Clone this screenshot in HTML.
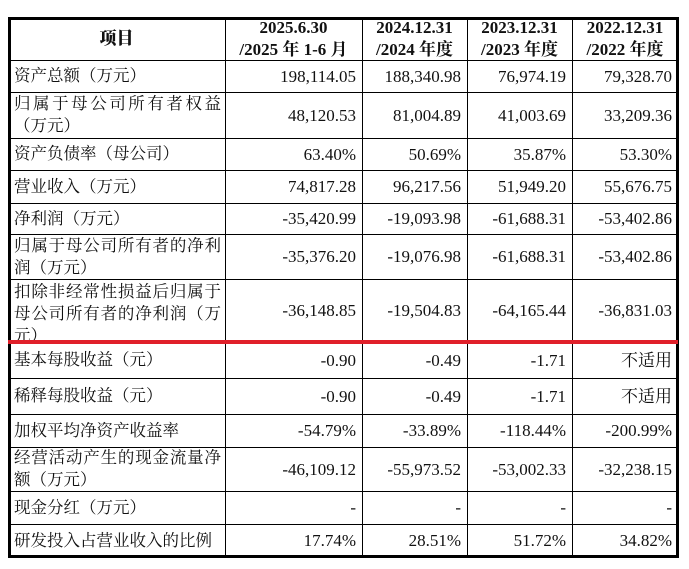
<!DOCTYPE html>
<html><head><meta charset="utf-8"><style>
body{margin:0;width:689px;height:569px;background:#fff;overflow:hidden;font-family:"Liberation Serif","Noto Serif CJK SC",serif;color:#111}
.c{position:absolute;box-sizing:border-box;overflow:hidden;font-size:17px;line-height:23px;display:flex;align-items:center}
.l{padding-left:6px;padding-right:4px;text-align:justify;text-align-last:left;font-size:16.5px;line-height:22px}
.r{justify-content:flex-end;padding-right:6px}
.h{justify-content:center;text-align:center;font-weight:bold;font-size:17px;line-height:22px}
.v{position:absolute;background:#000;width:1px}
.hl{position:absolute;background:#000;height:1px;left:8px;width:670px}
</style></head><body>
<div id="t"></div>
<script>
var ys=[17,60,92,138,170,203,234,279,342,378,414,447,491,524,557];
var xs=[8,225,362,467,572,678];
var d=[["<b>项目</b>","2025.6.30<br>/2025 年 1-6 月","2024.12.31<br>/2024 年度","2023.12.31<br>/2023 年度","2022.12.31<br>/2022 年度"],
["资产总额（万元）","198,114.05","188,340.98","76,974.19","79,328.70"],
["归属于母公司所有者权益（万元）","48,120.53","81,004.89","41,003.69","33,209.36"],
["资产负债率（母公司）","63.40%","50.69%","35.87%","53.30%"],
["营业收入（万元）","74,817.28","96,217.56","51,949.20","55,676.75"],
["净利润（万元）","-35,420.99","-19,093.98","-61,688.31","-53,402.86"],
["归属于母公司所有者的净利润（万元）","-35,376.20","-19,076.98","-61,688.31","-53,402.86"],
["扣除非经常性损益后归属于母公司所有者的净利润（万元）","-36,148.85","-19,504.83","-64,165.44","-36,831.03"],
["基本每股收益（元）","-0.90","-0.49","-1.71","不适用"],
["稀释每股收益（元）","-0.90","-0.49","-1.71","不适用"],
["加权平均净资产收益率","-54.79%","-33.89%","-118.44%","-200.99%"],
["经营活动产生的现金流量净额（万元）","-46,109.12","-55,973.52","-53,002.33","-32,238.15"],
["现金分红（万元）","-","-","-","-"],
["研发投入占营业收入的比例","17.74%","28.51%","51.72%","34.82%"]];
var h="";
for(var i=0;i<d.length;i++){for(var j=0;j<5;j++){
var cls=i==0?"h":(j==0?"l":"r");
var st="left:"+xs[j]+"px;top:"+ys[i]+"px;width:"+(xs[j+1]-xs[j])+"px;height:"+(ys[i+1]-ys[i])+"px;";
if(i==7&&j==0)st+="align-items:flex-start;padding-top:2px;";
h+='<div class="c '+cls+'" style="'+st+'"><div>'+d[i][j]+'</div></div>';}}
for(var j=0;j<xs.length;j++){var w=(j==0||j==5)?3:1;h+='<div class="v" style="left:'+(xs[j]-(j==5?2:0))+'px;top:17px;height:541px;width:'+w+'px"></div>';}
for(var i=0;i<ys.length;i++){if(i==8)continue;var w=(i==0||i==14)?3:1;h+='<div class="hl" style="top:'+(ys[i]-(i==14?2:0))+'px;height:'+w+'px"></div>';}
h+='<div style="position:absolute;left:8px;top:340px;width:670px;height:4px;background:#e0202a"></div>';
document.getElementById("t").innerHTML=h;
</script>
</body></html>
